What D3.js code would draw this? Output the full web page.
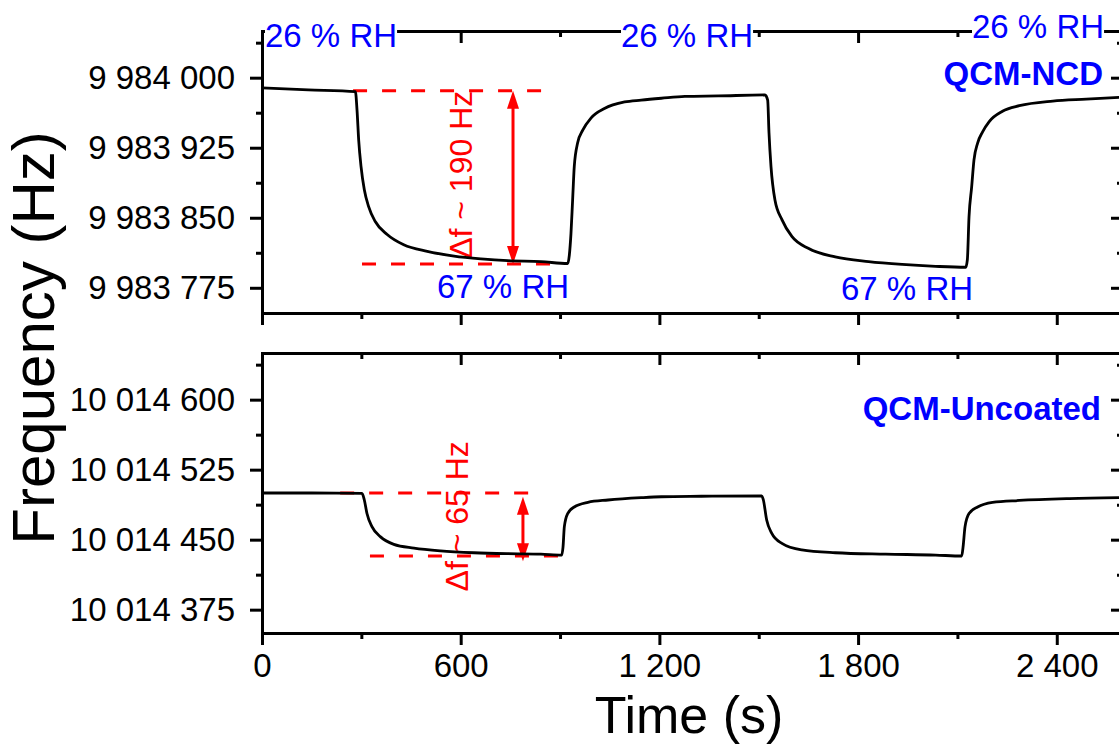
<!DOCTYPE html>
<html>
<head>
<meta charset="utf-8">
<script src="https://cdn.jsdelivr.net/npm/d3@7"></script>
<style>
  body { margin: 0; background: #fff; }
  svg { display: block; }
  text { font-family: Arial, "Liberation Sans", sans-serif; }
</style>
</head>
<body>
<svg width="1119" height="745"></svg>
<script>
// time (s) and frequency (Hz)
var timeNCD = [0, 140, 282, 287, 292, 299, 309, 322, 342, 378, 428, 499, 580, 661, 742, 842, 923,
  933, 938, 943, 953, 969, 994, 1034, 1095, 1145, 1206, 1277, 1378, 1519, 1527, 1531, 1537, 1549,
  1570, 1600, 1651, 1731, 1832, 1933, 2034, 2125, 2130, 2135, 2143, 2150, 2161, 2176, 2196, 2236,
  2287, 2388, 2489, 2597];
var freqNCD = [9983989, 9983987, 9983985, 9983965, 9983933, 9983905, 9983880, 9983862, 9983846,
  9983832, 9983821, 9983814, 9983809, 9983806, 9983804, 9983803, 9983801,
  9983833, 9983869, 9983905, 9983930, 9983944, 9983957, 9983967, 9983974, 9983976, 9983978,
  9983980, 9983980.5, 9983981.5, 9983976, 9983941, 9983905, 9983869,
  9983848, 9983830, 9983817, 9983808, 9983803, 9983800, 9983798, 9983797, 9983805, 9983851,
  9983883, 9983912, 9983930, 9983942, 9983953, 9983964, 9983970, 9983975, 9983977, 9983979];

var timeUncoated = [0, 150, 302, 309, 317, 332, 358, 398, 459, 539, 640, 742, 842, 905, 909, 913,
  923, 943, 984, 1045, 1145, 1206, 1327, 1509, 1514, 1524, 1539, 1570, 1630, 1731, 1883, 2034,
  2113, 2117, 2123, 2135, 2161, 2206, 2287, 2438, 2597];
var freqUncoated = [10014500, 10014500, 10014499.7, 10014492.5, 10014478, 10014464, 10014453,
  10014445, 10014441, 10014438, 10014436, 10014435, 10014434.5, 10014433.5, 10014442, 10014464,
  10014478, 10014485, 10014490, 10014492.5, 10014495, 10014496, 10014496.5, 10014497,
  10014492.5, 10014471, 10014457, 10014446, 10014439, 10014436, 10014434.5, 10014433.5,
  10014432.5, 10014442, 10014464, 10014478, 10014485, 10014490, 10014492, 10014494, 10014495];

var xTicks = [0, 600, 1200, 1800, 2400];
var xMinor = [300, 900, 1500, 2100];
var yTicksNCD = [9984000, 9983925, 9983850, 9983775];
var yMinorNCD = [9984037.5, 9983962.5, 9983887.5, 9983812.5];
var yTicksUncoated = [10014600, 10014525, 10014450, 10014375];
var yMinorUncoated = [10014637.5, 10014562.5, 10014487.5, 10014412.5];

// annotation levels: [t start, t end, freq]
var dashNCD = [[275, 875, 9983986], [302, 900, 9983800.5]];
var arrowNCD = [758, 9983986, 9983800.5];
var dashUncoated = [[236, 834, 10014500], [326, 924, 10014432.5]];
var arrowUncoated = [788, 10014496, 10014427];

var svg = d3.select("svg");
var left = 262, right = 1123;

var x = d3.scaleLinear().domain([0, 2600]).range([left, right]);
var yTop = d3.scaleLinear().domain([9983748, 9984050]).range([313, 31]);
var yBot = d3.scaleLinear().domain([10014350, 10014650]).range([633, 353]);

var fmt = d3.formatLocale({decimal: ".", thousands: " ", grouping: [3], currency: ["", ""]}).format(",d");

function styleAxis(g) {
  g.attr("font-size", null).attr("font-family", null);
  g.selectAll("path.domain").attr("stroke", "#000").attr("stroke-width", 3).attr("stroke-linecap", "square");
  g.selectAll(".tick line").attr("stroke", "#000").attr("stroke-width", 3);
  g.selectAll(".tick text").attr("fill", "#000").style("font-size", "33px");
}

function drawFrame(y, yTicks, yMinor, showLabels) {
  var yb = y.range()[0], yt = y.range()[1];

  // left
  svg.append("g").attr("transform", "translate(" + left + ",0)")
    .call(d3.axisLeft(y).tickValues(yTicks).tickSize(12).tickSizeOuter(0).tickPadding(15).tickFormat(fmt))
    .call(styleAxis);
  svg.append("g").attr("transform", "translate(" + left + ",0)")
    .call(d3.axisLeft(y).tickValues(yMinor).tickSize(6).tickFormat(""))
    .call(styleAxis).select(".domain").remove();

  // right (mirror, pointing in)
  svg.append("g").attr("transform", "translate(" + right + ",0)")
    .call(d3.axisLeft(y).tickValues(yTicks).tickSize(12).tickSizeOuter(0).tickFormat(""))
    .call(styleAxis);
  svg.append("g").attr("transform", "translate(" + right + ",0)")
    .call(d3.axisLeft(y).tickValues(yMinor).tickSize(6).tickFormat(""))
    .call(styleAxis).select(".domain").remove();

  // bottom
  var bottom = d3.axisBottom(x).tickValues(xTicks).tickSize(12).tickSizeOuter(0).tickPadding(9);
  if (showLabels) bottom.tickFormat(fmt); else bottom.tickFormat("");
  svg.append("g").attr("transform", "translate(0," + yb + ")").call(bottom).call(styleAxis);
  svg.append("g").attr("transform", "translate(0," + yb + ")")
    .call(d3.axisBottom(x).tickValues(xMinor).tickSize(6).tickFormat(""))
    .call(styleAxis).select(".domain").remove();

  // top (mirror, pointing in)
  svg.append("g").attr("transform", "translate(0," + yt + ")")
    .call(d3.axisBottom(x).tickValues(xTicks).tickSize(12).tickSizeOuter(0).tickFormat(""))
    .call(styleAxis);
  svg.append("g").attr("transform", "translate(0," + yt + ")")
    .call(d3.axisBottom(x).tickValues(xMinor).tickSize(6).tickFormat(""))
    .call(styleAxis).select(".domain").remove();
}

drawFrame(yTop, yTicksNCD, yMinorNCD, false);
drawFrame(yBot, yTicksUncoated, yMinorUncoated, true);

// curves
function drawCurve(times, freqs, y) {
  var pts = times.map(function(t, i) { return [t, freqs[i]]; });
  var line = d3.line()
    .x(function(d) { return x(d[0]); })
    .y(function(d) { return y(d[1]); })
    .curve(d3.curveMonotoneX);
  svg.append("path").datum(pts)
    .attr("d", line)
    .attr("fill", "none")
    .attr("stroke", "#000")
    .attr("stroke-width", 2.8)
    .attr("stroke-linejoin", "round");
}

// red annotations
function drawDelta(dashes, arrow, y, txt, txtT, txtF) {
  dashes.forEach(function(d) {
    svg.append("line")
      .attr("x1", x(d[0])).attr("x2", x(d[1]))
      .attr("y1", y(d[2])).attr("y2", y(d[2]))
      .attr("stroke", "red").attr("stroke-width", 3)
      .attr("stroke-dasharray", "14,15");
  });
  var ax = x(arrow[0]), ay1 = y(arrow[1]), ay2 = y(arrow[2]);
  var head = 18, hw = 6;
  svg.append("line")
    .attr("x1", ax).attr("x2", ax)
    .attr("y1", ay1 + head - 2).attr("y2", ay2 - head + 2)
    .attr("stroke", "red").attr("stroke-width", 3);
  svg.append("path")
    .attr("d", "M" + ax + "," + ay1 + "L" + (ax - hw) + "," + (ay1 + head) + "L" + (ax + hw) + "," + (ay1 + head) + "Z")
    .attr("fill", "red");
  svg.append("path")
    .attr("d", "M" + ax + "," + ay2 + "L" + (ax - hw) + "," + (ay2 - head) + "L" + (ax + hw) + "," + (ay2 - head) + "Z")
    .attr("fill", "red");
  svg.append("text")
    .attr("transform", "translate(" + x(txtT) + "," + y(txtF) + ") rotate(-90)")
    .attr("text-anchor", "middle")
    .attr("fill", "red")
    .style("font-size", "32px")
    .text(txt);
}

drawDelta(dashNCD, arrowNCD, yTop, "\u0394f ~ 190 Hz", 634, 9983896);
drawDelta(dashUncoated, arrowUncoated, yBot, "\u0394f ~ 65 Hz", 622, 10014475);

drawCurve(timeNCD, freqNCD, yTop);
drawCurve(timeUncoated, freqUncoated, yBot);

// blue labels
function label(txt, px, py, anchor, bold, bg) {
  var t = svg.append("text")
    .attr("x", px).attr("y", py)
    .attr("text-anchor", anchor)
    .attr("fill", "#0000ff")
    .style("font-size", "33px")
    .style("font-weight", bold ? "bold" : "normal")
    .text(txt);
  if (bg) {
    var bb = t.node().getBBox();
    svg.insert("rect", function() { return t.node(); })
      .attr("x", bb.x).attr("y", bb.y)
      .attr("width", bb.width).attr("height", bb.height)
      .attr("fill", "#fff");
  }
}

label("26 % RH", 265, 47, "start", false, true);
label("26 % RH", 621, 47, "start", false, true);
label("26 % RH", 972, 38, "start", false, true);
label("67 % RH", 437, 298, "start", false, false);
label("67 % RH", 841, 300, "start", false, false);
label("QCM-NCD", 1103, 85, "end", true, false);
label("QCM-Uncoated", 1101, 420, "end", true, false);

// axis titles
svg.append("text")
  .attr("transform", "translate(54,338) rotate(-90)")
  .attr("text-anchor", "middle")
  .style("font-size", "60px")
  .text("Frequency (Hz)");
svg.append("text")
  .attr("x", 689).attr("y", 733)
  .attr("text-anchor", "middle")
  .style("font-size", "52px")
  .text("Time (s)");
</script>
</body>
</html>
